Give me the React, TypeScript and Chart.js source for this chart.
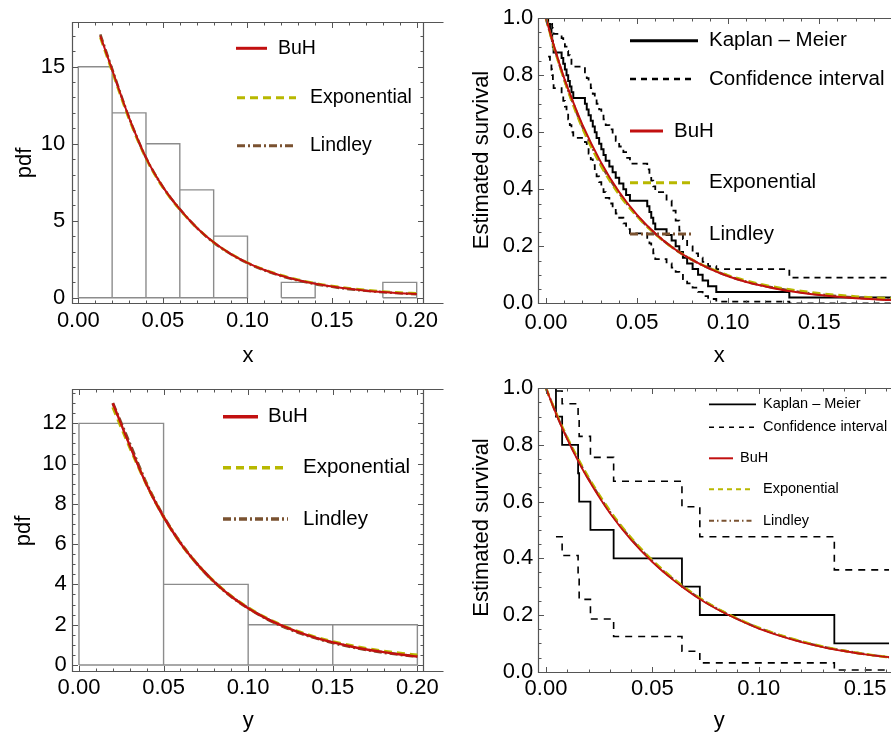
import React, { useEffect, useRef } from "react";
import { Chart, registerables } from "chart.js";

Chart.register(...registerables);

const FONT = "'Liberation Sans', Arial, Helvetica, sans-serif";

// ---------------- Top-left: histogram of x with fitted pdfs ----------------
const xBinEdges = [0, 0.02, 0.04, 0.06, 0.08, 0.1, 0.12, 0.14, 0.16, 0.18, 0.2];
const xBinCounts = [15, 12, 10, 7, 4, 0, 1, 0, 0, 1];
const xPdfGrid = [0.013, 0.02, 0.03, 0.04, 0.05, 0.06, 0.07, 0.08, 0.09, 0.1, 0.11, 0.12, 0.13, 0.14, 0.15, 0.16, 0.17, 0.18, 0.19, 0.2];
const xPdfBuH = [17.0, 14.8, 11.7, 9.1, 7.2, 5.75, 4.55, 3.6, 2.85, 2.27, 1.8, 1.43, 1.14, 0.91, 0.73, 0.58, 0.46, 0.37, 0.3, 0.24];
const xPdfExp = [16.9, 14.7, 11.6, 9.05, 7.15, 5.72, 4.55, 3.6, 2.86, 2.28, 1.82, 1.46, 1.17, 0.94, 0.76, 0.62, 0.5, 0.41, 0.34, 0.28];
const xPdfLindley = [17.1, 14.85, 11.7, 9.1, 7.2, 5.75, 4.55, 3.58, 2.84, 2.25, 1.78, 1.41, 1.12, 0.89, 0.71, 0.56, 0.45, 0.36, 0.29, 0.23];

// ---------------- Top-right: Kaplan-Meier for x ----------------
const xKmTimes = [0.0012, 0.0022, 0.003, 0.0034, 0.0038, 0.0042, 0.0086, 0.0095, 0.0104, 0.0113, 0.0122, 0.0131, 0.014, 0.015, 0.0214, 0.0224, 0.0234, 0.0246, 0.0257, 0.0268, 0.0278, 0.0292, 0.0304, 0.0316, 0.0328, 0.0348, 0.0366, 0.0383, 0.0402, 0.0425, 0.044, 0.0461, 0.0556, 0.0568, 0.0578, 0.0589, 0.06, 0.0662, 0.069, 0.0712, 0.0732, 0.0752, 0.0775, 0.0805, 0.0835, 0.086, 0.089, 0.0935, 0.1336, 0.205];
const xKmSurv = [0.98, 0.96, 0.94, 0.92, 0.9, 0.88, 0.86, 0.84, 0.82, 0.8, 0.78, 0.76, 0.74, 0.72, 0.7, 0.68, 0.66, 0.64, 0.62, 0.6, 0.58, 0.56, 0.54, 0.52, 0.5, 0.48, 0.46, 0.44, 0.42, 0.4, 0.38, 0.36, 0.34, 0.32, 0.3, 0.28, 0.26, 0.24, 0.22, 0.2, 0.18, 0.16, 0.14, 0.12, 0.1, 0.08, 0.06, 0.04, 0.02, 0.0];
const xCiUpper = [1.0, 1.0, 0.98, 0.965, 0.955, 0.945, 0.93, 0.915, 0.9, 0.885, 0.87, 0.855, 0.84, 0.83, 0.81, 0.79, 0.775, 0.755, 0.735, 0.72, 0.7, 0.68, 0.665, 0.645, 0.625, 0.61, 0.59, 0.57, 0.55, 0.53, 0.51, 0.49, 0.47, 0.45, 0.43, 0.41, 0.39, 0.36, 0.325, 0.29, 0.255, 0.225, 0.2, 0.175, 0.16, 0.145, 0.13, 0.12, 0.09, 0.0];
const xCiLower = [0.865, 0.84, 0.82, 0.8, 0.78, 0.755, 0.73, 0.71, 0.69, 0.67, 0.645, 0.625, 0.6, 0.58, 0.565, 0.545, 0.525, 0.505, 0.485, 0.465, 0.445, 0.425, 0.405, 0.39, 0.37, 0.35, 0.335, 0.315, 0.3, 0.28, 0.26, 0.245, 0.23, 0.21, 0.19, 0.175, 0.155, 0.14, 0.125, 0.11, 0.1, 0.085, 0.07, 0.055, 0.04, 0.025, 0.015, 0.006, 0.0, 0.0];
const xSurvGrid = [0, 0.005, 0.01, 0.015, 0.02, 0.03, 0.04, 0.05, 0.06, 0.07, 0.08, 0.09, 0.1, 0.11, 0.12, 0.13, 0.14, 0.15, 0.16, 0.17, 0.18, 0.19];
const xSurvBuH = [1.0, 0.89, 0.79, 0.705, 0.627, 0.497, 0.392, 0.31, 0.245, 0.193, 0.153, 0.121, 0.095, 0.075, 0.06, 0.047, 0.037, 0.029, 0.023, 0.018, 0.014, 0.011];
const xSurvExp = [1.0, 0.885, 0.785, 0.695, 0.615, 0.485, 0.383, 0.305, 0.243, 0.193, 0.154, 0.123, 0.098, 0.079, 0.064, 0.052, 0.043, 0.035, 0.029, 0.024, 0.02, 0.017];
const xSurvLindley = [1.0, 0.888, 0.787, 0.7, 0.62, 0.49, 0.388, 0.307, 0.244, 0.193, 0.153, 0.122, 0.096, 0.076, 0.061, 0.049, 0.039, 0.031, 0.025, 0.02, 0.016, 0.013];

// ---------------- Bottom-left: histogram of y with fitted pdfs ----------------
const yBinEdges = [0, 0.05, 0.1, 0.15, 0.2];
const yBinCounts = [12, 4, 2, 2];
const yPdfGrid = [0.02, 0.03, 0.04, 0.05, 0.06, 0.07, 0.08, 0.09, 0.1, 0.11, 0.12, 0.13, 0.14, 0.15, 0.16, 0.17, 0.18, 0.19, 0.2];
const yPdfBuH = [13.0, 10.9, 8.95, 7.35, 6.05, 5.0, 4.12, 3.4, 2.82, 2.34, 1.95, 1.62, 1.35, 1.12, 0.93, 0.77, 0.64, 0.52, 0.42];
const yPdfExp = [12.8, 10.8, 8.95, 7.35, 6.05, 5.0, 4.13, 3.42, 2.84, 2.36, 1.97, 1.65, 1.38, 1.16, 0.98, 0.82, 0.69, 0.58, 0.49];
const yPdfLindley = [13.0, 11.0, 9.0, 7.38, 6.07, 5.0, 4.12, 3.4, 2.82, 2.33, 1.93, 1.6, 1.33, 1.1, 0.91, 0.75, 0.62, 0.51, 0.42];

// ---------------- Bottom-right: Kaplan-Meier for y ----------------
const yKmTimes = [0.0047, 0.0076, 0.0151, 0.0156, 0.0209, 0.0318, 0.0639, 0.0723, 0.1355, 0.175];
const yKmSurv = [0.9, 0.8, 0.7, 0.6, 0.5, 0.4, 0.3, 0.2, 0.1, 0.0];
const yCiUpper = [0.99, 0.945, 0.89, 0.83, 0.756, 0.672, 0.582, 0.476, 0.359, 0.2];
const yCiLower = [0.476, 0.41, 0.33, 0.255, 0.186, 0.124, 0.072, 0.031, 0.006, 0.0];
const ySurvGrid = [0, 0.005, 0.01, 0.015, 0.02, 0.03, 0.04, 0.05, 0.06, 0.07, 0.08, 0.09, 0.1, 0.11, 0.12, 0.13, 0.14, 0.15, 0.16, 0.165];
const ySurvBuH = [1.0, 0.905, 0.82, 0.745, 0.677, 0.56, 0.465, 0.387, 0.322, 0.267, 0.222, 0.185, 0.152, 0.126, 0.104, 0.087, 0.073, 0.061, 0.052, 0.048];
const ySurvExp = [1.0, 0.908, 0.826, 0.752, 0.685, 0.568, 0.472, 0.393, 0.327, 0.271, 0.225, 0.187, 0.155, 0.129, 0.107, 0.089, 0.074, 0.062, 0.052, 0.048];
const ySurvLindley = [1.0, 0.907, 0.823, 0.749, 0.681, 0.564, 0.469, 0.39, 0.325, 0.27, 0.224, 0.186, 0.154, 0.128, 0.106, 0.088, 0.074, 0.062, 0.052, 0.048];

// ---------------- helpers ----------------
type Pt = { x: number; y: number | null };
type Sty = { color: string; width: number; dash: number[] };

const RED = "#c21010";
const YEL = "#b8b800";
const BRN = "#7a5230";

function zip(xs: number[], ys: number[]): Pt[] {
  return xs.map((x, i) => ({ x, y: ys[i] }));
}

function histogramOutline(edges: number[], counts: number[]): Pt[] {
  const pts: Pt[] = [];
  counts.forEach((c, i) => {
    if (c <= 0) return;
    const a = edges[i];
    const b = edges[i + 1];
    pts.push({ x: a, y: 0 }, { x: a, y: c }, { x: b, y: c }, { x: b, y: 0 }, { x: a, y: 0 }, { x: a, y: null });
  });
  return pts;
}

function stepPath(times: number[], vals: number[], start?: Pt): Pt[] {
  const pts: Pt[] = start ? [start] : [];
  times.forEach((t, i) => pts.push({ x: t, y: vals[i] }));
  return pts;
}

function lineDs(data: Pt[], s: Sty, order: number, extra: any = {}) {
  return {
    data,
    borderColor: s.color,
    borderWidth: s.width,
    borderDash: s.dash,
    pointRadius: 0,
    fill: false,
    tension: 0,
    spanGaps: false,
    order,
    ...extra,
  };
}

type LegendItem = { s: Sty; x0: number; x1: number; y: number; tx: number; text: string };

type Spec = {
  box: { x: number; y: number; w: number; h: number };
  area: { l: number; t: number; r: number; b: number };
  xr: [number, number];
  yr: [number, number];
  xStep: number; xMinor: number; yStep: number; yMinor: number;
  xDigits: number; yDigits: number;
  xPad: number; yPad: number;
  drawRight: boolean;
  datasets: any[];
  xTitle: { text: string; x: number; y: number };
  yTitle: { text: string; x: number; y: number };
  legend: LegendItem[];
  legendFont: number;
};

const TICK_FONT = 22;
const TITLE_FONT = 22;

function decorPlugin(spec: Spec) {
  return {
    id: "decor",
    afterDatasetsDraw(chart: any) {
      const ctx: CanvasRenderingContext2D = chart.ctx;
      const a = chart.chartArea;
      const xs = chart.scales.x;
      const ys = chart.scales.y;
      const ox = spec.box.x;
      const oy = spec.box.y;
      ctx.save();
      // frame
      ctx.strokeStyle = "#555";
      ctx.lineWidth = 1.2;
      ctx.setLineDash([]);
      const L = Math.round(a.left) + 0.5;
      const T = Math.round(a.top) + 0.5;
      const B = Math.round(a.bottom) + 0.5;
      const R = Math.round(a.right) - 0.5;
      ctx.beginPath();
      ctx.moveTo(R + 20, T); ctx.lineTo(L, T); ctx.lineTo(L, B); ctx.lineTo(R + 20, B);
      if (spec.drawRight) { ctx.moveTo(R, T); ctx.lineTo(R, B); }
      ctx.stroke();
      // ticks
      ctx.lineWidth = 1;
      ctx.beginPath();
      const ratioX = Math.round(spec.xStep / spec.xMinor);
      for (let k = Math.ceil(spec.xr[0] / spec.xMinor - 1e-9); k * spec.xMinor <= spec.xr[1] + 1e-9; k++) {
        const v = k * spec.xMinor;
        const len = k % ratioX === 0 ? 5.5 : 3;
        const px = Math.round(xs.getPixelForValue(v)) + 0.5;
        ctx.moveTo(px, B); ctx.lineTo(px, B - len);
        ctx.moveTo(px, T); ctx.lineTo(px, T + len);
      }
      const ratioY = Math.round(spec.yStep / spec.yMinor);
      for (let k = Math.ceil(spec.yr[0] / spec.yMinor - 1e-9); k * spec.yMinor <= spec.yr[1] + 1e-9; k++) {
        const v = k * spec.yMinor;
        const len = k % ratioY === 0 ? 5.5 : 3;
        const py = Math.round(ys.getPixelForValue(v)) + 0.5;
        ctx.moveTo(L, py); ctx.lineTo(L + len, py);
        if (spec.drawRight) { ctx.moveTo(R, py); ctx.lineTo(R - len, py); }
      }
      ctx.stroke();
      // axis titles
      ctx.fillStyle = "#000";
      ctx.font = `${TITLE_FONT}px ${FONT}`;
      ctx.textAlign = "center";
      ctx.textBaseline = "middle";
      ctx.fillText(spec.xTitle.text, spec.xTitle.x - ox, spec.xTitle.y - oy);
      ctx.save();
      ctx.translate(spec.yTitle.x - ox, spec.yTitle.y - oy);
      ctx.rotate(-Math.PI / 2);
      ctx.fillText(spec.yTitle.text, 0, 0);
      ctx.restore();
      // legend
      ctx.font = `${spec.legendFont}px ${FONT}`;
      ctx.textAlign = "left";
      ctx.textBaseline = "middle";
      spec.legend.forEach((it) => {
        ctx.strokeStyle = it.s.color;
        ctx.lineWidth = it.s.width;
        ctx.setLineDash(it.s.dash);
        ctx.beginPath();
        ctx.moveTo(it.x0 - ox, it.y - oy);
        ctx.lineTo(it.x1 - ox, it.y - oy);
        ctx.stroke();
        ctx.fillText(it.text, it.tx - ox, it.y - oy);
      });
      ctx.restore();
    },
  };
}

function buildConfig(spec: Spec): any {
  const tickFont = { family: FONT, size: TICK_FONT };
  return {
    type: "line",
    data: { datasets: spec.datasets },
    options: {
      animation: false,
      responsive: false,
      maintainAspectRatio: false,
      events: [],
      layout: {
        padding: {
          left: 0,
          top: spec.area.t - spec.box.y,
          right: spec.box.x + spec.box.w - spec.area.r,
          bottom: 0,
        },
      },
      plugins: { legend: { display: false }, tooltip: { enabled: false } },
      scales: {
        x: {
          type: "linear",
          min: spec.xr[0],
          max: spec.xr[1],
          grid: { display: false, drawTicks: false },
          border: { display: false },
          ticks: {
            stepSize: spec.xStep,
            includeBounds: false,
            autoSkip: false,
            maxRotation: 0,
            minRotation: 0,
            padding: spec.xPad,
            color: "#000",
            font: tickFont,
            callback: (v: any) => Number(v).toFixed(spec.xDigits),
          },
          afterFit: (s: any) => { s.height = spec.box.y + spec.box.h - spec.area.b; },
        },
        y: {
          type: "linear",
          min: spec.yr[0],
          max: spec.yr[1],
          grid: { display: false, drawTicks: false },
          border: { display: false },
          ticks: {
            stepSize: spec.yStep,
            includeBounds: false,
            autoSkip: false,
            padding: spec.yPad,
            color: "#000",
            font: tickFont,
            callback: (v: any) => Number(v).toFixed(spec.yDigits),
          },
          afterFit: (s: any) => { s.width = spec.area.l - spec.box.x; },
        },
      },
    },
    plugins: [decorPlugin(spec)],
  };
}

// ---------------- styles ----------------
const S_BUH: Sty = { color: RED, width: 2, dash: [] };
const S_EXP: Sty = { color: YEL, width: 2.6, dash: [8, 5] };
const S_LIN: Sty = { color: BRN, width: 2.6, dash: [8, 3, 2, 3] };
const S_HIST: Sty = { color: "#8c8c8c", width: 1.4, dash: [] };
const S_KM: Sty = { color: "#000", width: 2, dash: [] };
const S_CI: Sty = { color: "#000", width: 1.8, dash: [6, 5] };
const S_KM4: Sty = { color: "#000", width: 1.8, dash: [] };
const S_CI4: Sty = { color: "#000", width: 1.6, dash: [7, 6] };

const curveOpt = { cubicInterpolationMode: "monotone" };

const spec1: Spec = {
  box: { x: 0, y: 0, w: 445, h: 370 },
  area: { l: 71.7, t: 21.7, r: 424.3, b: 303.3 },
  xr: [-0.0039, 0.2045],
  yr: [-0.36, 17.92],
  xStep: 0.05, xMinor: 0.01, yStep: 5, yMinor: 1,
  xDigits: 2, yDigits: 0, xPad: 4.2, yPad: 6.5,
  drawRight: true,
  datasets: [
    lineDs(histogramOutline(xBinEdges, xBinCounts), S_HIST, 10),
    lineDs(zip(xPdfGrid, xPdfLindley), S_LIN, 3, curveOpt),
    lineDs(zip(xPdfGrid, xPdfExp), S_EXP, 2, curveOpt),
    lineDs(zip(xPdfGrid, xPdfBuH), S_BUH, 1, curveOpt),
  ],
  xTitle: { text: "x", x: 248, y: 356 },
  yTitle: { text: "pdf", x: 24.5, y: 163 },
  legend: [
    { s: { ...S_BUH, width: 3 }, x0: 236, x1: 267, y: 48.3, tx: 278, text: "BuH" },
    { s: { ...S_EXP, width: 3 }, x0: 237, x1: 296, y: 97.7, tx: 310, text: "Exponential" },
    { s: { ...S_LIN, width: 3 }, x0: 237, x1: 296, y: 145.7, tx: 310, text: "Lindley" },
  ],
  legendFont: 19.5,
};

const spec2: Spec = {
  box: { x: 445, y: 0, w: 446, h: 370 },
  area: { l: 538.3, t: 16, r: 891, b: 303.3 },
  xr: [-0.0042, 0.1894],
  yr: [0, 1],
  xStep: 0.05, xMinor: 0.01, yStep: 0.2, yMinor: 0.05,
  xDigits: 2, yDigits: 1, xPad: 6, yPad: 5,
  drawRight: false,
  datasets: [
    lineDs(stepPath(xKmTimes, xCiUpper, { x: 0, y: 1 }), S_CI, 9, { stepped: "before" }),
    lineDs(stepPath(xKmTimes, xCiLower), S_CI, 9, { stepped: "before" }),
    lineDs(stepPath(xKmTimes, xKmSurv, { x: 0, y: 1 }), S_KM, 8, { stepped: "before" }),
    lineDs(zip(xSurvGrid, xSurvLindley), S_LIN, 3, curveOpt),
    lineDs(zip(xSurvGrid, xSurvExp), S_EXP, 2, curveOpt),
    lineDs(zip(xSurvGrid, xSurvBuH), S_BUH, 1, curveOpt),
  ],
  xTitle: { text: "x", x: 719.3, y: 356 },
  yTitle: { text: "Estimated survival", x: 481.5, y: 160 },
  legend: [
    { s: { ...S_KM, width: 3 }, x0: 630, x1: 698, y: 40.7, tx: 709, text: "Kaplan \u2013 Meier" },
    { s: { ...S_CI, width: 2.5 }, x0: 630, x1: 694, y: 79, tx: 709, text: "Confidence interval" },
    { s: { ...S_BUH, width: 3 }, x0: 630, x1: 663, y: 131, tx: 674, text: "BuH" },
    { s: { ...S_EXP, width: 3 }, x0: 630, x1: 694, y: 182.7, tx: 709, text: "Exponential" },
    { s: { ...S_LIN, width: 3 }, x0: 630, x1: 694, y: 234, tx: 709, text: "Lindley" },
  ],
  legendFont: 20.5,
};

const spec3: Spec = {
  box: { x: 0, y: 370, w: 445, h: 370 },
  area: { l: 71.7, t: 389.3, r: 424.3, b: 671 },
  xr: [-0.0043, 0.2041],
  yr: [-0.3, 13.69],
  xStep: 0.05, xMinor: 0.01, yStep: 2, yMinor: 0.5,
  xDigits: 2, yDigits: 0, xPad: 4.2, yPad: 5,
  drawRight: true,
  datasets: [
    lineDs(histogramOutline(yBinEdges, yBinCounts), S_HIST, 10),
    lineDs(zip(yPdfGrid, yPdfLindley), { ...S_LIN, width: 3 }, 3, curveOpt),
    lineDs(zip(yPdfGrid, yPdfExp), { ...S_EXP, width: 3 }, 2, curveOpt),
    lineDs(zip(yPdfGrid, yPdfBuH), { ...S_BUH, width: 2.4 }, 1, curveOpt),
  ],
  xTitle: { text: "y", x: 248.3, y: 721 },
  yTitle: { text: "pdf", x: 24, y: 531 },
  legend: [
    { s: { ...S_BUH, width: 3.5 }, x0: 223, x1: 258, y: 416.7, tx: 268, text: "BuH" },
    { s: { ...S_EXP, width: 3.5 }, x0: 223, x1: 288, y: 467.7, tx: 303, text: "Exponential" },
    { s: { ...S_LIN, width: 3.5 }, x0: 223, x1: 288, y: 519, tx: 303, text: "Lindley" },
  ],
  legendFont: 20.5,
};

const spec4: Spec = {
  box: { x: 445, y: 370, w: 446, h: 370 },
  area: { l: 538.3, t: 384, r: 891, b: 671.7 },
  xr: [-0.0036, 0.1612],
  yr: [0, 1],
  xStep: 0.05, xMinor: 0.01, yStep: 0.2, yMinor: 0.05,
  xDigits: 2, yDigits: 1, xPad: 4.4, yPad: 5,
  drawRight: false,
  datasets: [
    lineDs(stepPath(yKmTimes, yCiUpper, { x: 0, y: 1 }), S_CI4, 9, { stepped: "before" }),
    lineDs(stepPath(yKmTimes, yCiLower), S_CI4, 9, { stepped: "before" }),
    lineDs(stepPath(yKmTimes, yKmSurv, { x: 0, y: 1 }), S_KM4, 8, { stepped: "before" }),
    lineDs(zip(ySurvGrid, ySurvLindley), { ...S_LIN, width: 2.4 }, 3, curveOpt),
    lineDs(zip(ySurvGrid, ySurvExp), { ...S_EXP, width: 2.6 }, 2, curveOpt),
    lineDs(zip(ySurvGrid, ySurvBuH), { ...S_BUH, width: 1.8 }, 1, curveOpt),
  ],
  xTitle: { text: "y", x: 719.3, y: 721 },
  yTitle: { text: "Estimated survival", x: 481.5, y: 527.5 },
  legend: [
    { s: { ...S_KM4, width: 1.8 }, x0: 709, x1: 756, y: 404.3, tx: 763, text: "Kaplan \u2013 Meier" },
    { s: { ...S_CI4, width: 1.6, dash: [5, 5] }, x0: 709, x1: 754, y: 427.3, tx: 763, text: "Confidence interval" },
    { s: { ...S_BUH, width: 2 }, x0: 709, x1: 733, y: 458.3, tx: 740, text: "BuH" },
    { s: { ...S_EXP, width: 2, dash: [5, 4] }, x0: 709, x1: 754, y: 489.3, tx: 763, text: "Exponential" },
    { s: { ...S_LIN, width: 2, dash: [5, 3, 1.5, 3] }, x0: 709, x1: 754, y: 520.7, tx: 763, text: "Lindley" },
  ],
  legendFont: 14.5,
};

const SPECS = [spec1, spec2, spec3, spec4];

function Panel({ spec }: { spec: Spec }) {
  const ref = useRef<HTMLCanvasElement | null>(null);
  useEffect(() => {
    if (!ref.current) return;
    const chart = new Chart(ref.current, buildConfig(spec));
    return () => chart.destroy();
  }, [spec]);
  return (
    <canvas
      ref={ref}
      width={spec.box.w}
      height={spec.box.h}
      style={{ position: "absolute", left: spec.box.x, top: spec.box.y, width: spec.box.w, height: spec.box.h }}
    />
  );
}

export default function App() {
  return (
    <div style={{ position: "absolute", left: 0, top: 0, width: 891, height: 740, overflow: "hidden", background: "#fff" }}>
      {SPECS.map((s, i) => (
        <Panel key={i} spec={s} />
      ))}
    </div>
  );
}
